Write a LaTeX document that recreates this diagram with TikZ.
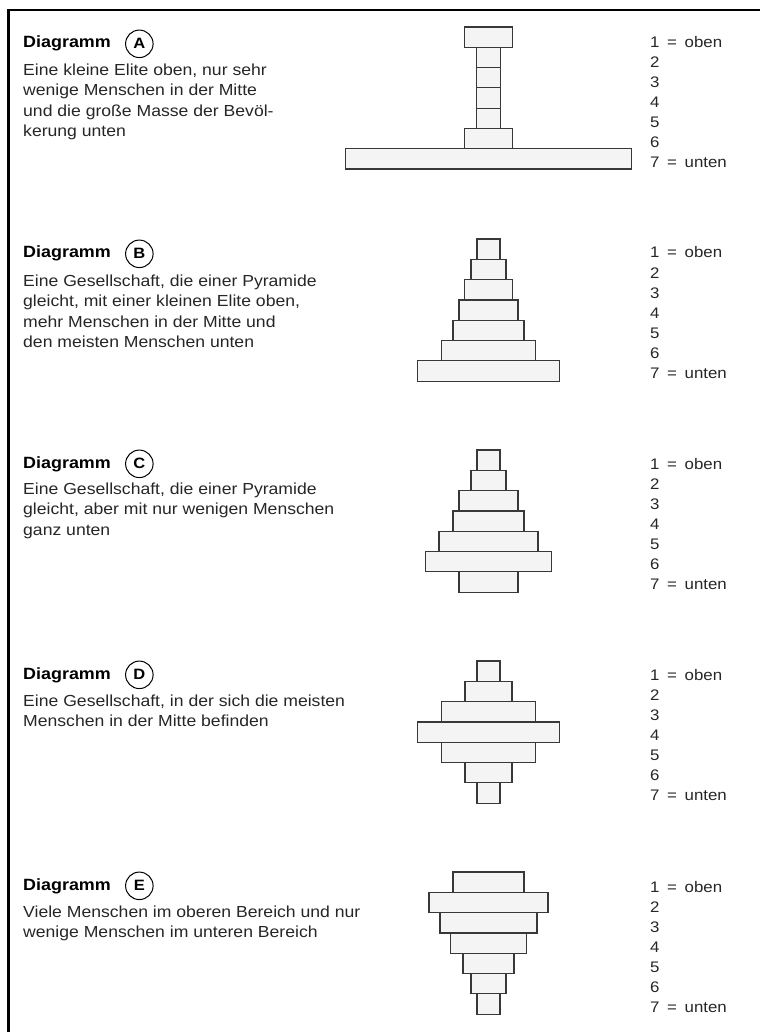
\documentclass[tikz,border=0pt]{standalone}
\usepackage{fontspec}
\setmainfont{Liberation Sans}[FakeStretch=1.1]
\usetikzlibrary{positioning}
\definecolor{boxfill}{HTML}{F4F4F4}
\definecolor{boxline}{HTML}{383838}
\definecolor{inktext}{HTML}{262626}

\begin{document}
\begin{tikzpicture}[x=1pt, y=-1pt, node distance=14pt,
    layer/.style={rectangle, draw=boxline, fill=boxfill, line width=1.2pt, inner sep=0pt, outer sep=0pt, minimum height=20.3pt},
    heading/.style={anchor=base west, inner sep=0pt, font=\fontsize{16.3}{19}\selectfont\bfseries},
    letter/.style={circle, draw=black, line width=1pt, minimum size=27.5pt, inner sep=0pt, font=\fontsize{15}{15}\selectfont\bfseries},
    blurb/.style={anchor=north west, align=left, inner sep=0pt, text=inktext, font=\fontsize{16}{20.5}\selectfont},
    level/.style={anchor=base west, inner sep=0pt, text=inktext, font=\fontsize{15.3}{15.3}\selectfont}]

  \useasboundingbox (0,0) rectangle (760,1032);
  \draw[line width=2.5pt] (8.5,1032) -- (8.5,10) -- (760,10);

  % Diagramm A
  \node[heading] (titleA) at (23,48) {Diagramm};
  \node[letter]  (circA) [right=of titleA] {A};
  \node[blurb]   (textA) at (23,63.5) {Eine kleine Elite oben, nur sehr\\wenige Menschen in der Mitte\\und die große Masse der Bevöl-\\kerung unten};
  \foreach \w [count=\i] in {48,24,24,24,24,48,286}
    \node[layer, minimum width=\w pt] (a\i) at (488.5,{27+20.3*(\i-0.5)}) {};
  \node[level] (levA1) at (650,48) {1\enspace=\enspace oben};
  \foreach \i in {2,...,6}
    \node[level] (levA\i) at (650,{48+20*(\i-1)}) {\i};
  \node[level] (levA7) at (650,168) {7\enspace=\enspace unten};

  % Diagramm B
  \node[heading] (titleB) at (23,258) {Diagramm};
  \node[letter]  (circB) [right=of titleB] {B};
  \node[blurb]   (textB) at (23,274.5) {Eine Gesellschaft, die einer Pyramide\\gleicht, mit einer kleinen Elite oben,\\mehr Menschen in der Mitte und\\den meisten Menschen unten};
  \foreach \w [count=\i] in {23,35,48,59,71,94,142}
    \node[layer, minimum width=\w pt] (b\i) at (488.5,{239+20.3*(\i-0.5)}) {};
  \node[level] (levB1) at (650,258) {1\enspace=\enspace oben};
  \foreach \i in {2,...,6}
    \node[level] (levB\i) at (650,{258+20*(\i-1)}) {\i};
  \node[level] (levB7) at (650,378) {7\enspace=\enspace unten};

  % Diagramm C
  \node[heading] (titleC) at (23,468) {Diagramm};
  \node[letter]  (circC) [right=of titleC] {C};
  \node[blurb]   (textC) at (23,482.5) {Eine Gesellschaft, die einer Pyramide\\gleicht, aber mit nur wenigen Menschen\\ganz unten};
  \foreach \w [count=\i] in {23,35,59,71,99,126,59}
    \node[layer, minimum width=\w pt] (c\i) at (488.5,{450+20.3*(\i-0.5)}) {};
  \node[level] (levC1) at (650,469) {1\enspace=\enspace oben};
  \foreach \i in {2,...,6}
    \node[level] (levC\i) at (650,{469+20*(\i-1)}) {\i};
  \node[level] (levC7) at (650,589) {7\enspace=\enspace unten};

  % Diagramm D
  \node[heading] (titleD) at (23,679) {Diagramm};
  \node[letter]  (circD) [right=of titleD] {D};
  \node[blurb]   (textD) at (23,694.5) {Eine Gesellschaft, in der sich die meisten\\Menschen in der Mitte befinden};
  \foreach \w [count=\i] in {23,47,94,142,94,47,23}
    \node[layer, minimum width=\w pt] (d\i) at (488.5,{661+20.3*(\i-0.5)}) {};
  \node[level] (levD1) at (650,680) {1\enspace=\enspace oben};
  \foreach \i in {2,...,6}
    \node[level] (levD\i) at (650,{680+20*(\i-1)}) {\i};
  \node[level] (levD7) at (650,800) {7\enspace=\enspace unten};

  % Diagramm E
  \node[heading] (titleE) at (23,890) {Diagramm};
  \node[letter]  (circE) [right=of titleE] {E};
  \node[blurb]   (textE) at (23,905.5) {Viele Menschen im oberen Bereich und nur\\wenige Menschen im unteren Bereich};
  \foreach \w [count=\i] in {71,119,97,76,51,35,23}
    \node[layer, minimum width=\w pt] (e\i) at (488.5,{872+20.3*(\i-0.5)}) {};
  \node[level] (levE1) at (650,892) {1\enspace=\enspace oben};
  \foreach \i in {2,...,6}
    \node[level] (levE\i) at (650,{892+20*(\i-1)}) {\i};
  \node[level] (levE7) at (650,1012) {7\enspace=\enspace unten};
\end{tikzpicture}
\end{document}
